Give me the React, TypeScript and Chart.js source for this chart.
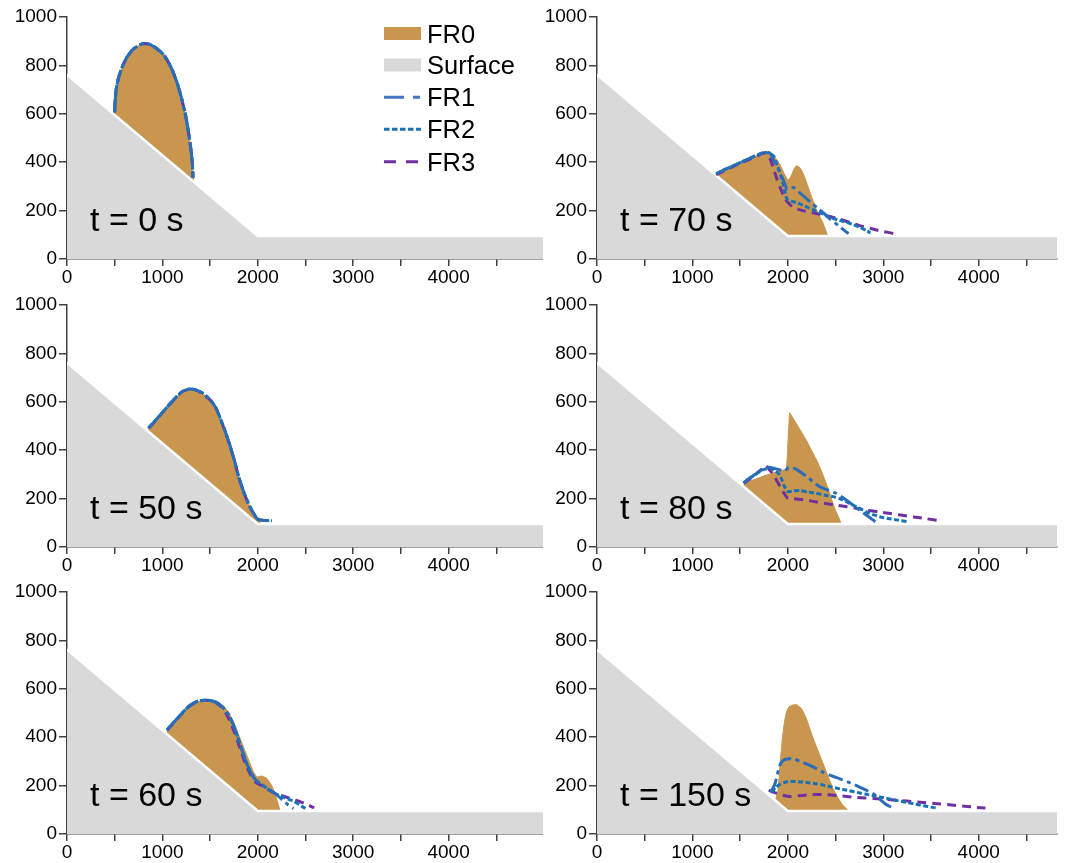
import React, { useEffect, useRef } from 'react';
import { Chart, registerables } from 'chart.js';

Chart.register(...registerables);

const FONT = '"Liberation Sans", Arial, Helvetica, sans-serif';
Chart.defaults.font.family = FONT;
Chart.defaults.color = '#000';

type P = [number, number];

// ---------- axis ticks ----------
const xTickValues = [0, 500, 1000, 1500, 2000, 2500, 3000, 3500, 4000, 4500];
const xLabelValues = [0, 1000, 2000, 3000, 4000];
const yTickValues = [0, 200, 400, 600, 800, 1000];

// ---------- surface (slope + flat runout) ----------
const surfaceX = [0, 2000, 5000];
const surfaceY = [762, 95, 95];

// ---------- t = 0 s ----------
const t0_FR0: P[] = [[499,606],[502,640],[515,700],[541,750],[580,795],[630,835],[698,868],[786,889],[860,888],[940,870],[1013,844],[1070,808],[1117,768],[1165,715],[1205,658],[1245,590],[1275,521],[1300,450],[1315,390],[1321,336],[1325,318],[495,596]];
const t0_FR1: P[] = [[499,606],[502,640],[515,700],[541,750],[580,795],[630,835],[698,868],[786,889],[860,888],[940,870],[1013,844],[1070,808],[1117,768],[1165,715],[1205,658],[1245,590],[1275,521],[1300,450],[1315,390],[1321,336]];
const t0_FR2: P[] = [[499,606],[502,640],[515,700],[541,750],[580,795],[630,835],[698,868],[786,889],[860,888],[940,870],[1013,844],[1070,808],[1117,768],[1165,715],[1205,658],[1245,590],[1275,521],[1300,450],[1315,390],[1321,336]];
const t0_FR3: P[] = [[499,606],[502,640],[515,700],[541,750],[580,795],[630,835],[698,868],[786,889],[860,888],[940,870],[1013,844],[1070,808],[1117,768],[1165,715],[1205,658],[1245,590],[1275,521],[1300,450],[1315,390],[1321,336]];

// ---------- t = 50 s ----------
const t50_FR0: P[] = [[855,490],[920,518],[978,545],[1050,578],[1117,607],[1205,641],[1285,652],[1350,648],[1420,635],[1502,607],[1560,575],[1607,531],[1660,475],[1712,414],[1760,350],[1799,290],[1845,235],[1887,193],[1925,160],[1956,138],[1985,120],[2008,113],[2030,100],[2000,92],[850,476]];
const t50_FR1: P[] = [[855,492],[920,520],[978,546],[1050,579],[1117,608],[1205,642],[1285,653],[1350,649],[1420,636],[1502,608],[1560,576],[1607,532],[1660,476],[1712,415],[1760,351],[1799,291],[1845,236],[1887,194],[1925,161],[1956,139],[1985,121],[2008,113],[2060,110],[2100,109],[2149,108]];
const t50_FR2: P[] = [[855,492],[920,520],[978,546],[1050,579],[1117,608],[1205,642],[1285,653],[1350,649],[1420,636],[1502,608],[1560,576],[1607,532],[1660,476],[1712,415],[1760,351],[1799,291],[1845,236],[1887,194],[1925,161],[1956,139],[1985,121],[2008,113],[2060,110],[2100,109],[2145,108]];
const t50_FR3: P[] = [[855,490],[920,518],[978,545],[1050,578],[1117,607],[1205,641],[1285,652],[1350,648],[1420,635],[1502,607],[1560,575],[1607,531],[1660,475],[1712,414],[1760,350],[1799,290],[1845,235],[1887,193],[1925,160],[1956,138],[1985,120],[2008,113],[2060,110],[2100,109],[2140,108]];

// ---------- t = 60 s ----------
const t60_FR0: P[] = [[1048,425],[1120,460],[1200,495],[1290,530],[1380,548],[1480,553],[1560,545],[1640,530],[1700,500],[1750,460],[1800,410],[1850,360],[1900,310],[1950,260],[1990,235],[2040,240],[2090,232],[2140,205],[2180,170],[2210,128],[2235,95],[2000,92],[1045,410]];
const t60_FR1: P[] = [[1048,430],[1120,462],[1200,497],[1290,532],[1380,550],[1480,553],[1560,545],[1630,525],[1690,495],[1740,455],[1790,400],[1840,340],[1890,285],[1940,245],[1985,220],[2040,205],[2100,188],[2180,168],[2260,140],[2320,120],[2375,105]];
const t60_FR2: P[] = [[1048,430],[1120,462],[1200,497],[1290,532],[1380,550],[1480,553],[1560,545],[1630,525],[1690,495],[1740,455],[1790,400],[1840,340],[1890,285],[1940,245],[1985,220],[2040,205],[2100,188],[2180,168],[2280,150],[2380,135],[2460,115],[2500,105]];
const t60_FR3: P[] = [[1048,428],[1120,460],[1200,495],[1290,530],[1380,549],[1480,552],[1560,543],[1625,522],[1680,490],[1730,445],[1775,400],[1825,340],[1875,285],[1925,245],[1975,215],[2040,200],[2100,185],[2180,168],[2280,155],[2400,140],[2500,125],[2590,108]];

// ---------- t = 70 s ----------
const t70_FR0: P[] = [[1249,350],[1330,366],[1424,383],[1510,398],[1598,414],[1680,428],[1755,440],[1800,436],[1843,428],[1890,408],[1930,380],[1965,350],[2000,325],[2025,336],[2045,353],[2065,372],[2087,385],[2112,382],[2140,370],[2175,340],[2210,300],[2255,250],[2297,205],[2335,175],[2367,150],[2395,120],[2419,95],[2000,92],[1245,345]];
const t70_FR1: P[] = [[1249,352],[1330,368],[1424,385],[1510,400],[1598,416],[1680,430],[1750,440],[1790,440],[1817,436],[1860,400],[1921,356],[1960,318],[1992,288],[2030,295],[2061,295],[2113,277],[2160,262],[2201,247],[2250,230],[2306,212],[2380,188],[2446,164],[2540,135],[2600,115],[2637,105]];
const t70_FR2: P[] = [[1249,352],[1330,368],[1424,385],[1510,400],[1598,416],[1680,430],[1750,440],[1800,438],[1851,425],[1890,385],[1939,329],[1965,285],[1992,247],[2040,238],[2096,233],[2180,218],[2271,203],[2360,187],[2446,171],[2530,161],[2621,151],[2690,141],[2760,130],[2820,118],[2865,108]];
const t70_FR3: P[] = [[1249,348],[1330,364],[1424,382],[1510,397],[1598,412],[1680,426],[1740,438],[1775,432],[1817,411],[1850,372],[1887,329],[1930,285],[1974,247],[2020,225],[2061,212],[2110,205],[2166,199],[2250,192],[2341,185],[2450,175],[2550,164],[2650,151],[2760,137],[2870,126],[2970,116],[3050,110],[3127,104]];

// ---------- t = 80 s ----------
const t80_FR0: P[] = [[1537,260],[1600,272],[1677,283],[1760,295],[1851,306],[1930,316],[1985,322],[1995,380],[2005,470],[2018,555],[2050,535],[2096,505],[2150,470],[2201,436],[2250,398],[2306,355],[2350,315],[2393,272],[2430,232],[2463,190],[2500,150],[2530,125],[2560,95],[2000,92],[1535,248]];
const t80_FR1: P[] = [[1537,265],[1590,282],[1640,295],[1700,312],[1760,326],[1800,330],[1860,325],[1920,318],[1970,315],[2010,330],[2060,326],[2100,318],[2200,290],[2330,250],[2420,235],[2507,222],[2611,194],[2751,153],[2891,112],[2940,98]];
const t80_FR2: P[] = [[1537,265],[1590,282],[1640,295],[1700,310],[1760,322],[1820,325],[1870,315],[1913,298],[1940,275],[1965,249],[2000,229],[2060,232],[2122,233],[2200,228],[2297,222],[2390,214],[2472,208],[2540,200],[2611,187],[2680,173],[2751,160],[2856,139],[2961,125],[3050,118],[3136,112],[3250,105]];
const t80_FR3: P[] = [[1537,262],[1590,278],[1640,292],[1690,310],[1720,320],[1764,338],[1810,318],[1851,297],[1890,270],[1921,248],[1960,222],[1992,204],[2061,200],[2201,193],[2300,186],[2411,179],[2520,172],[2621,166],[2730,159],[2830,152],[2950,145],[3074,138],[3200,131],[3319,124],[3450,117],[3599,108]];

// ---------- t = 150 s ----------
const t150_FR0: P[] = [[1870,140],[1895,175],[1910,240],[1920,300],[1935,365],[1950,420],[1965,465],[1985,505],[2010,525],[2040,532],[2090,535],[2140,520],[2170,498],[2200,470],[2230,436],[2260,400],[2295,365],[2330,330],[2365,295],[2400,260],[2435,225],[2470,190],[2505,163],[2540,140],[2570,122],[2600,110],[2640,95],[2000,92],[1868,135]];
const t150_FR1: P[] = [[1817,172],[1845,190],[1869,213],[1895,255],[1921,289],[1955,305],[1992,310],[2061,310],[2130,300],[2201,289],[2290,272],[2375,254],[2460,240],[2550,227],[2640,213],[2725,199],[2810,183],[2899,165],[2960,145],[3022,124],[3075,113],[3127,107]];
const t150_FR2: P[] = [[1834,172],[1870,192],[1921,206],[1970,214],[2026,217],[2110,216],[2201,213],[2290,208],[2375,202],[2460,194],[2550,186],[2640,179],[2725,172],[2810,165],[2899,158],[2990,151],[3074,144],[3160,137],[3249,130],[3340,123],[3424,117],[3500,111],[3564,107]];
const t150_FR3: P[] = [[1799,181],[1850,172],[1921,165],[1970,158],[2026,155],[2110,158],[2201,161],[2290,163],[2375,163],[2460,161],[2550,158],[2640,154],[2725,151],[2810,149],[2899,147],[3070,142],[3249,136],[3420,130],[3599,124],[3740,119],[3878,114],[3970,110],[4070,107]];

// ---------- styles ----------
const COLOR_FR0 = '#c8964f';
const COLOR_SURFACE = '#d9d9d9';
const COLOR_FR1 = '#2a6db9';
const COLOR_FR2 = '#1673b6';
const COLOR_FR3 = '#7030a0';
const AXIS_COLOR = '#404040';
const DASH_FR1 = [15, 4.5, 4, 4.5];
const DASH_FR2 = [5, 2.5];
const DASH_FR3 = [9, 6];

const toXY = (pts: P[]) => pts.map(([x, y]) => ({ x, y }));

const panelTextPlugin = {
  id: 'panelText',
  afterDatasetsDraw(chart: any, _args: any, opts: any) {
    const { ctx, chartArea } = chart;
    ctx.save();
    ctx.font = `34px ${FONT}`;
    ctx.fillStyle = '#000';
    ctx.textBaseline = 'alphabetic';
    ctx.textAlign = 'left';
    ctx.fillText(opts.text, chartArea.left + 23, chartArea.bottom - 28);
    ctx.restore();
  },
};

const legendItems = [
  { label: 'FR0', kind: 'box', color: COLOR_FR0, dash: [] as number[] },
  { label: 'Surface', kind: 'box', color: COLOR_SURFACE, dash: [] as number[] },
  { label: 'FR1', kind: 'line', color: '#4476c4', dash: [20, 9, 7, 9] },
  { label: 'FR2', kind: 'line', color: COLOR_FR2, dash: [5.5, 2.5] },
  { label: 'FR3', kind: 'line', color: COLOR_FR3, dash: [12, 10] },
];

const flowLegendPlugin = {
  id: 'flowLegend',
  afterDraw(chart: any, _args: any, opts: any) {
    if (!opts.show) return;
    const { ctx } = chart;
    const x0 = 384;
    const w = 37;
    const centers = [33.5, 65, 97.3, 129.3, 161.7];
    ctx.save();
    legendItems.forEach((it, i) => {
      const cy = centers[i];
      if (it.kind === 'box') {
        ctx.fillStyle = it.color;
        ctx.fillRect(x0, cy - 6.5, w, 13);
      } else {
        ctx.strokeStyle = it.color;
        ctx.lineWidth = 3;
        ctx.setLineDash(it.dash);
        ctx.beginPath();
        ctx.moveTo(x0, cy);
        ctx.lineTo(x0 + w, cy);
        ctx.stroke();
        ctx.setLineDash([]);
      }
      ctx.font = `25.5px ${FONT}`;
      ctx.fillStyle = '#000';
      ctx.textBaseline = 'alphabetic';
      ctx.textAlign = 'left';
      ctx.fillText(it.label, 427, cy + 9.1);
    });
    ctx.restore();
  },
};

type PanelCfg = {
  text: string;
  fr0: P[]; fr1: P[]; fr2: P[]; fr3: P[];
  left: number; top: number; width: number; height: number;
  xMax: number; yAxisWidth: number; padRight: number; legend: boolean;
};

const LEFT = { left: 0, width: 543, xMax: 4990, yAxisWidth: 67, padRight: 0 };
const RIGHT = { left: 543, width: 536, xMax: 4820, yAxisWidth: 54, padRight: 22 };

const panels: PanelCfg[] = [
  { text: 't = 0 s', fr0: t0_FR0, fr1: t0_FR1, fr2: t0_FR2, fr3: t0_FR3, ...LEFT, top: 0, height: 288, legend: true },
  { text: 't = 70 s', fr0: t70_FR0, fr1: t70_FR1, fr2: t70_FR2, fr3: t70_FR3, ...RIGHT, top: 0, height: 288, legend: false },
  { text: 't = 50 s', fr0: t50_FR0, fr1: t50_FR1, fr2: t50_FR2, fr3: t50_FR3, ...LEFT, top: 288, height: 288, legend: false },
  { text: 't = 80 s', fr0: t80_FR0, fr1: t80_FR1, fr2: t80_FR2, fr3: t80_FR3, ...RIGHT, top: 288, height: 288, legend: false },
  { text: 't = 60 s', fr0: t60_FR0, fr1: t60_FR1, fr2: t60_FR2, fr3: t60_FR3, ...LEFT, top: 575, height: 288, legend: false },
  { text: 't = 150 s', fr0: t150_FR0, fr1: t150_FR1, fr2: t150_FR2, fr3: t150_FR3, ...RIGHT, top: 575, height: 288, legend: false },
];

function Panel({ cfg }: { cfg: PanelCfg }) {
  const ref = useRef<HTMLCanvasElement>(null);
  useEffect(() => {
    const surface = surfaceX.map((x, i) => ({ x, y: surfaceY[i] }));
    const lineDs = (label: string, pts: P[], color: string, dash: number[], order: number) => ({
      label,
      data: toXY(pts),
      borderColor: color,
      borderWidth: 3,
      borderDash: dash,
      pointRadius: 0,
      fill: false,
      tension: 0.2,
      order,
    });
    const chart = new Chart(ref.current as HTMLCanvasElement, {
      type: 'line',
      data: {
        datasets: [
          lineDs('FR1', cfg.fr1, COLOR_FR1, DASH_FR1, 0),
          lineDs('FR2', cfg.fr2, COLOR_FR2, DASH_FR2, 1),
          lineDs('FR3', cfg.fr3, COLOR_FR3, DASH_FR3, 2),
          {
            label: 'Surface',
            data: surface,
            borderColor: '#ffffff',
            borderWidth: 2.5,
            backgroundColor: COLOR_SURFACE,
            fill: 'origin',
            pointRadius: 0,
            tension: 0,
            order: 3,
          },
          {
            label: 'FR0',
            data: toXY(cfg.fr0),
            borderColor: COLOR_FR0,
            borderWidth: 1,
            backgroundColor: COLOR_FR0,
            fill: 'shape',
            pointRadius: 0,
            tension: 0,
            order: 4,
          },
        ] as any,
      },
      options: {
        responsive: false,
        maintainAspectRatio: false,
        animation: false,
        events: [],
        layout: { padding: { top: 17, right: cfg.padRight, left: 0, bottom: 0 } },
        plugins: {
          legend: { display: false },
          tooltip: { enabled: false },
          panelText: { text: cfg.text },
          flowLegend: { show: cfg.legend },
        } as any,
        scales: {
          x: {
            type: 'linear',
            min: 0,
            max: cfg.xMax,
            z: 1,
            afterBuildTicks: (s: any) => {
              s.ticks = xTickValues.map((v) => ({ value: v }));
            },
            afterFit: (s: any) => {
              s.height = 29;
            },
            ticks: {
              autoSkip: false,
              maxRotation: 0,
              minRotation: 0,
              padding: 0,
              color: '#000',
              font: { size: 19, family: FONT },
              callback: (v: any) => (xLabelValues.includes(Number(v)) ? String(v) : ''),
            },
            grid: { drawOnChartArea: false, drawTicks: true, tickLength: 7, color: AXIS_COLOR, lineWidth: 1.5 },
            border: { display: true, color: AXIS_COLOR, width: 1.5 },
          },
          y: {
            type: 'linear',
            min: 0,
            max: 1000,
            z: 1,
            afterBuildTicks: (s: any) => {
              s.ticks = yTickValues.map((v) => ({ value: v }));
            },
            afterFit: (s: any) => {
              s.width = cfg.yAxisWidth;
            },
            ticks: {
              padding: 2,
              color: '#000',
              font: { size: 19, family: FONT },
              callback: (v: any) => String(v),
            },
            grid: { drawOnChartArea: false, drawTicks: true, tickLength: 8, color: AXIS_COLOR, lineWidth: 1.5 },
            border: { display: true, color: AXIS_COLOR, width: 1.5 },
          },
        } as any,
      },
      plugins: [panelTextPlugin, flowLegendPlugin],
    });
    return () => chart.destroy();
  }, []);
  return (
    <div style={{ position: 'absolute', left: cfg.left, top: cfg.top, width: cfg.width, height: cfg.height }}>
      <canvas ref={ref} width={cfg.width} height={cfg.height} style={{ display: 'block', width: cfg.width, height: cfg.height }} />
    </div>
  );
}

export default function App() {
  return (
    <div style={{ position: 'absolute', left: 0, top: 0, width: 1079, height: 863, background: '#fff', overflow: 'hidden' }}>
      {panels.map((p) => (
        <Panel key={p.text} cfg={p} />
      ))}
    </div>
  );
}
